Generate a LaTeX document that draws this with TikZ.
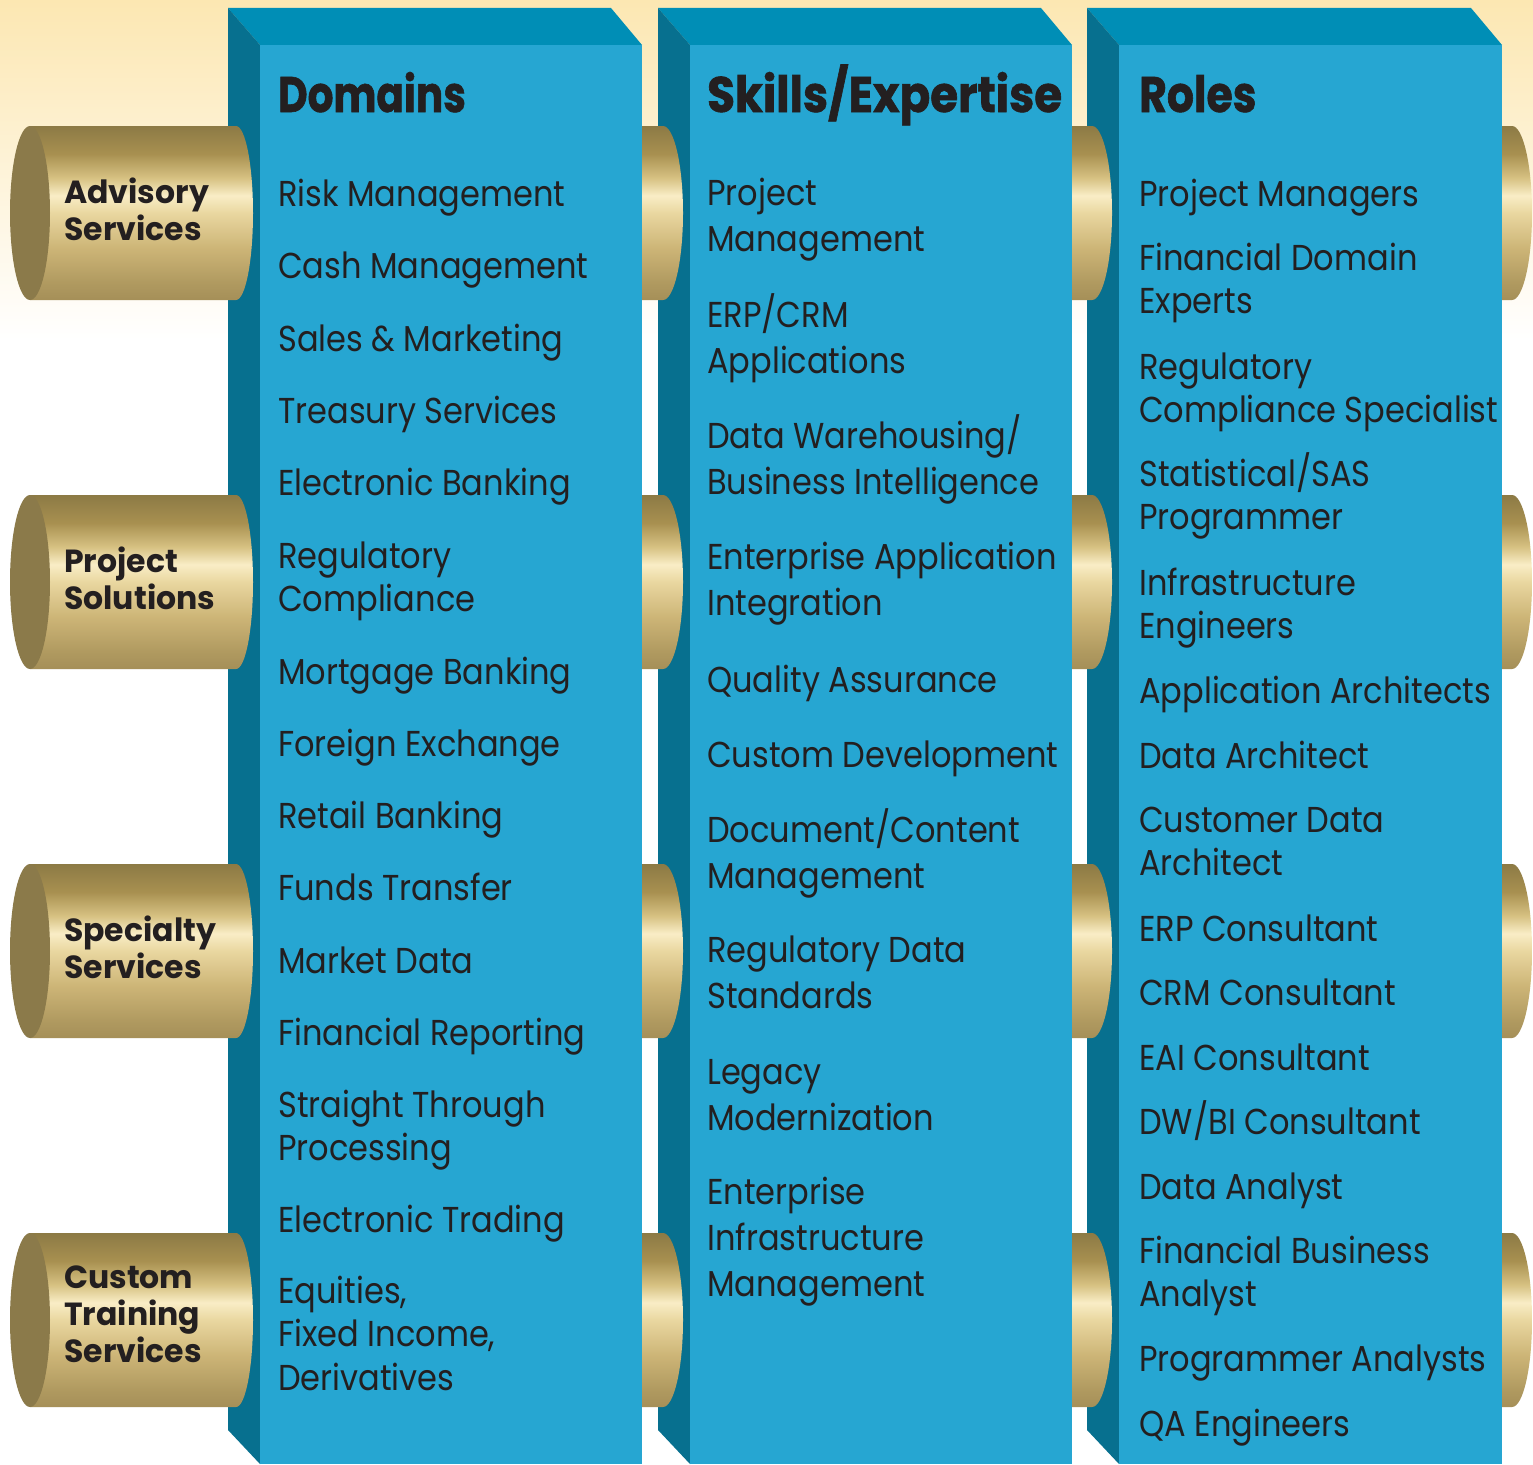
\documentclass[tikz,border=0pt]{standalone}
\usepackage{fontspec}
\setmainfont{Poppins}
\newfontfamily\itemfont[FakeStretch=0.89]{Poppins}
\newfontfamily\hdrfont[FakeStretch=0.85, BoldFeatures={FakeBold=1.2}]{Poppins}
\newfontfamily\cylfont[FakeStretch=0.985]{Poppins}
\definecolor{ink}{HTML}{231F20}
\definecolor{cream}{HTML}{FCE7B2}
\definecolor{frontcol}{HTML}{26A6D2}
\definecolor{topcol}{HTML}{008EB6}
\definecolor{sidecol}{HTML}{07708F}
\definecolor{capcol}{HTML}{8B7A4A}
\definecolor{gA}{HTML}{8C7A45}
\definecolor{gB}{HTML}{A89050}
\definecolor{gC}{HTML}{D7C283}
\definecolor{gD}{HTML}{F9EDC6}
\definecolor{gE}{HTML}{E9D7A0}
\definecolor{gF}{HTML}{CDB577}
\definecolor{gG}{HTML}{B09A60}
\definecolor{gH}{HTML}{A58F58}
\pgfdeclareverticalshading{gold}{100bp}{color(0bp)=(gH); color(25bp)=(gH); color(30bp)=(gG); color(40bp)=(gF); color(50bp)=(gE); color(55bp)=(gD); color(60bp)=(gC); color(67bp)=(gB); color(75bp)=(gA); color(100bp)=(gA)}
\newcommand\lines[1]{\begin{tabular}[t]{@{}l@{}}#1\end{tabular}}
\newcommand\boxcol[2]{%
  \fill[topcol] (#1-32,8) -- (#2-31,8) -- (#2,45) -- (#1,45) -- cycle;
  \fill[sidecol] (#1-32,8) -- (#1,45) -- (#1,1464) -- (#1-32,1430) -- cycle;
  \fill[frontcol] (#1,45) rectangle (#2,1464);}
\newcommand\cylseg[4]{%
  \shade[shading=gold] (#1,#4-87) -- (#2,#4-87) arc[start angle=90,end angle=-90,x radius=#3pt,y radius=87pt] -- (#1,#4+87) -- cycle;}
\tikzset{
  base/.style={anchor=base west, inner sep=0pt, text=ink},
  hdr/.style={base, font=\hdrfont\bfseries\fontsize{50}{56}\selectfont},
  dom/.style={base, font=\itemfont\fontsize{36}{43.5}\selectfont},
  skl/.style={base, font=\itemfont\fontsize{36}{46}\selectfont},
  rol/.style={base, font=\itemfont\fontsize{36}{43}\selectfont},
  cyl/.style={base, font=\cylfont\bfseries\fontsize{32}{37}\selectfont},
}
\begin{document}
\begin{tikzpicture}[x=1pt,y=-1pt]
\useasboundingbox (0,0) rectangle (1533,1464);
\fill[white] (0,0) rectangle (1533,1464);
\shade[top color=cream, bottom color=white] (0,0) rectangle (1533,340);
% columns
\boxcol{260}{642}
\boxcol{690}{1072}
\boxcol{1119}{1502}
% cylinders
\foreach \cy in {213,582,951,1320}{
  \cylseg{30}{236}{17}{\cy}
  \fill[capcol] (30,\cy) ellipse[x radius=20pt, y radius=87pt];
  \cylseg{642}{663}{20}{\cy}
  \cylseg{1072}{1092}{20}{\cy}
  \cylseg{1502}{1512}{20}{\cy}
}
% cylinder labels
\node[cyl] (c1) at (64,203) {\lines{Advisory\\Services}};
\node[cyl] (c2) at (64,572) {\lines{Project\\Solutions}};
\node[cyl] (c3) at (64,941) {\lines{Specialty\\Services}};
\node[cyl] (c4) at (64,1288) {\lines{Custom\\Training\\Services}};
% headers
\node[hdr] (h1) at (278,112) {\scalebox{0.954}[1]{Domains}};
\node[hdr] (h2) at (707,112) {\scalebox{1.063}[1]{Skills/Expertise}};
\node[hdr] (h3) at (1139,112) {Roles};
% domains
\node[dom] (d1) at (278,206) {Risk Management};
\node[dom] (d2) at (278,278) {Cash Management};
\node[dom] (d3) at (278,351) {Sales \& Marketing};
\node[dom] (d4) at (278,423) {Treasury Services};
\node[dom] (d5) at (278,495) {Electronic Banking};
\node[dom] (d6) at (278,568) {\lines{Regulatory\\Compliance}};
\node[dom] (d7) at (278,684) {Mortgage Banking};
\node[dom] (d8) at (278,756) {Foreign Exchange};
\node[dom] (d9) at (278,828) {Retail Banking};
\node[dom] (d10) at (278,900) {Funds Transfer};
\node[dom] (d11) at (278,973) {Market Data};
\node[dom] (d12) at (278,1045) {Financial Reporting};
\node[dom] (d13) at (278,1117) {\lines{Straight Through\\Processing}};
\node[dom] (d14) at (278,1232) {Electronic Trading};
\node[dom] (d15) at (278,1303) {\lines{Equities,\\Fixed Income,\\Derivatives}};
% skills
\node[skl] (s1) at (707,205) {\lines{Project\\Management}};
\node[skl] (s2) at (707,327) {\lines{ERP/CRM\\Applications}};
\node[skl] (s3) at (707,448) {\lines{Data Warehousing/\\Business Intelligence}};
\node[skl] (s4) at (707,569) {\lines{Enterprise Application\\Integration}};
\node[skl] (s5) at (707,692) {Quality Assurance};
\node[skl] (s6) at (707,767) {Custom Development};
\node[skl] (s7) at (707,842) {\lines{Document/Content\\Management}};
\node[skl] (s8) at (707,962) {\lines{Regulatory Data\\Standards}};
\node[skl] (s9) at (707,1084) {\lines{Legacy\\Modernization}};
\node[skl] (s10) at (707,1204) {\lines{Enterprise\\Infrastructure\\Management}};
% roles
\node[rol] (r1) at (1139,206) {Project Managers};
\node[rol] (r2) at (1139,270) {\lines{Financial Domain\\Experts}};
\node[rol] (r3) at (1139,379) {\lines{Regulatory\\Compliance Specialist}};
\node[rol] (r4) at (1139,486) {\lines{Statistical/SAS\\Programmer}};
\node[rol] (r5) at (1139,595) {\lines{Infrastructure\\Engineers}};
\node[rol] (r6) at (1139,703) {Application Architects};
\node[rol] (r7) at (1139,768) {Data Architect};
\node[rol] (r8) at (1139,832) {\lines{Customer Data\\Architect}};
\node[rol] (r9) at (1139,941) {ERP Consultant};
\node[rol] (r10) at (1139,1005) {CRM Consultant};
\node[rol] (r11) at (1139,1070) {EAI Consultant};
\node[rol] (r12) at (1139,1134) {DW/BI Consultant};
\node[rol] (r13) at (1139,1199) {Data Analyst};
\node[rol] (r14) at (1139,1263) {\lines{Financial Business\\Analyst}};
\node[rol] (r15) at (1139,1371) {Programmer Analysts};
\node[rol] (r16) at (1139,1436) {QA Engineers};
\end{tikzpicture}
\end{document}
